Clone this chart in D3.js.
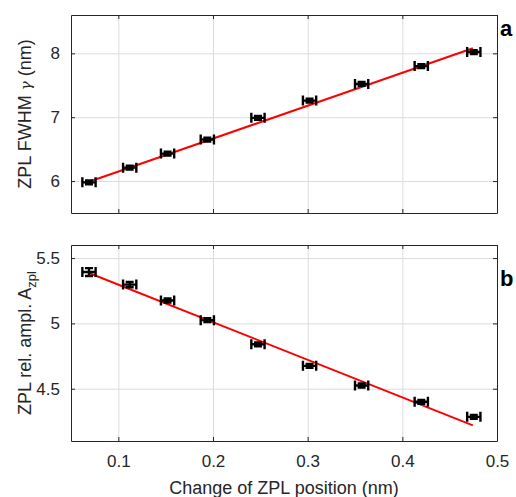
<!DOCTYPE html>
<style>
body { margin: 0; background: #fff; }
text { font-family: "Liberation Sans", Arial, sans-serif; }
.grid line { stroke: #dcdcdc; stroke-width: 1; }
.grid .domain { display: none; }
.axis text { fill: #262626; font-size: 17px; }
.axis line, .axis path { stroke: #262626; }
</style>
<svg width="516" height="497"></svg>
<script src="https://d3js.org/d3.v7.min.js"></script>
<script>
// data
var shift = [0.069, 0.112, 0.152, 0.194, 0.2475, 0.302, 0.357, 0.420, 0.4755];
var fwhm = [5.98, 6.21, 6.43, 6.65, 6.99, 7.26, 7.52, 7.80, 8.02];
var fwhmErr = [0.03, 0.03, 0.03, 0.03, 0.03, 0.03, 0.03, 0.03, 0.03];
var ampl = [5.393, 5.297, 5.175, 5.025, 4.84, 4.675, 4.525, 4.40, 4.285];
var amplErr = [0.03, 0.02, 0.015, 0.015, 0.015, 0.015, 0.015, 0.015, 0.015];
var shiftErr = 0.007;
var fitX = [0.069, 0.4745];
var fwhmFit = [5.99, 8.08];
var amplFit = [5.386, 4.22];
var xTicks = [0.1, 0.2, 0.3, 0.4, 0.5];
var fwhmTicks = [6, 7, 8];
var amplTicks = [4.5, 5, 5.5];

var svg = d3.select("svg");
var left = 71, right = 497;

var x = d3.scaleLinear().domain([0.05, 0.5]).range([left, right]);

function panel(top, bottom, domain, ticks, ys, errs, fit, label, letter, letterY, showX) {
  var y = d3.scaleLinear().domain(domain).range([bottom, top]);
  var g = svg.append("g");

  g.append("g").attr("class", "grid")
      .attr("transform", "translate(0," + bottom + ")")
      .call(d3.axisBottom(x).tickValues(xTicks).tickSize(-(bottom - top)).tickFormat(""));
  g.append("g").attr("class", "grid")
      .attr("transform", "translate(" + left + ",0)")
      .call(d3.axisLeft(y).tickValues(ticks).tickSize(-(right - left)).tickFormat(""));

  // fit line
  g.append("path")
      .datum(fitX.map(function(v, i) { return [v, fit[i]]; }))
      .attr("fill", "none")
      .attr("stroke", "#ff0000")
      .attr("stroke-width", 2)
      .attr("d", d3.line().x(function(d) { return x(d[0]); }).y(function(d) { return y(d[1]); }));

  // error bars
  var pts = g.append("g").selectAll("g")
    .data(shift.map(function(v, i) { return {x: v, y: ys[i], e: errs[i]}; }))
    .enter().append("g")
      .attr("stroke", "#000")
      .attr("stroke-width", 2.4)
      .attr("fill", "none");

  pts.append("path").attr("d", function(d) {
    var x0 = x(d.x - shiftErr), x1 = x(d.x + shiftErr), yc = y(d.y);
    var y0 = y(d.y + d.e), y1 = y(d.y - d.e), xc = x(d.x), c = 5, h = 4;
    return "M" + x0 + "," + yc + "H" + x1 +
      "M" + x0 + "," + (yc - c) + "V" + (yc + c) +
      "M" + x1 + "," + (yc - c) + "V" + (yc + c) +
      "M" + xc + "," + y0 + "V" + y1 +
      "M" + (xc - h) + "," + y0 + "H" + (xc + h) +
      "M" + (xc - h) + "," + y1 + "H" + (xc + h);
  });

  // box axes
  g.append("g").attr("class", "axis")
      .attr("transform", "translate(0," + bottom + ")")
      .call(d3.axisBottom(x).tickValues(xTicks).tickSizeInner(-4).tickSizeOuter(0)
        .tickPadding(14).tickFormat(showX ? d3.format(".1f") : ""));
  g.append("g").attr("class", "axis")
      .attr("transform", "translate(0," + top + ")")
      .call(d3.axisTop(x).tickValues(xTicks).tickSizeInner(-4).tickSizeOuter(0).tickFormat(""));
  g.append("g").attr("class", "axis")
      .attr("transform", "translate(" + left + ",0)")
      .call(d3.axisLeft(y).tickValues(ticks).tickSizeInner(-4).tickSizeOuter(0).tickPadding(11)
        .tickFormat(d3.format("")));
  g.append("g").attr("class", "axis")
      .attr("transform", "translate(" + right + ",0)")
      .call(d3.axisRight(y).tickValues(ticks).tickSizeInner(-4).tickSizeOuter(0).tickFormat(""));

  var lab = g.append("text")
      .attr("transform", "translate(31," + ((top + bottom) / 2) + ") rotate(-90)")
      .attr("text-anchor", "middle")
      .attr("fill", "#262626")
      .attr("font-size", 18);
  label(lab);

  g.append("text")
      .attr("x", 500).attr("y", letterY)
      .attr("font-size", 22).attr("font-weight", "bold")
      .attr("fill", "#000")
      .text(letter);
  return y;
}

panel(15, 213, [5.5, 8.6], fwhmTicks, fwhm, fwhmErr, fwhmFit, function(t) {
  t.append("tspan").text("ZPL FWHM ");
  t.append("tspan").attr("font-style", "italic").attr("font-family", "DejaVu Serif, serif")
    .attr("font-size", 15).text("γ");
  t.append("tspan").text(" (nm)");
}, "a", 36, false);

panel(245, 441, [4.1, 5.6], amplTicks, ampl, amplErr, amplFit, function(t) {
  t.append("tspan").text("ZPL rel. ampl. A");
  t.append("tspan").attr("font-size", 13).attr("dy", 5).text("zpl");
}, "b", 286, true);

svg.append("text")
    .attr("x", (left + right) / 2).attr("y", 494)
    .attr("text-anchor", "middle")
    .attr("fill", "#262626")
    .attr("font-size", 18)
    .text("Change of ZPL position (nm)");
</script>
